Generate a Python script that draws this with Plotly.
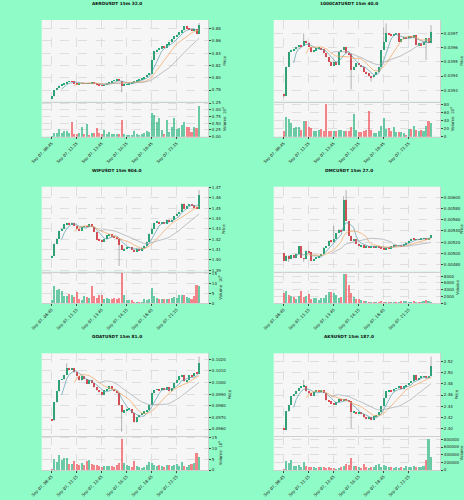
import plotly.graph_objects as go
import pandas as pd

# ---------------- data ----------------
N = 60
candle_idx = list(range(N))
date_ticks = [0, 10, 20, 30, 40, 50]
date_labels = ["Sep 07, 08:45", "Sep 07, 11:15", "Sep 07, 13:45",
               "Sep 07, 16:15", "Sep 07, 18:45", "Sep 07, 21:15"]

titles = ["AEROUSDT 15m 32.0", "1000CATUSDT 15m 40.0", "WIFUSDT 15m 904.0",
          "DMCUSDT 15m 27.0", "GOATUSDT 15m 81.0", "AKSUSDT 15m 187.0"]

aero_open0 = 0.7654
aero_close = [0.7697, 0.7795, 0.7833, 0.7870, 0.7887, 0.7903, 0.7936, 0.7946, 0.7941, 0.7914,
              0.7898, 0.7903, 0.7908, 0.7903, 0.7914, 0.7908, 0.7919, 0.7903, 0.7892, 0.7881,
              0.7870, 0.7881, 0.7914, 0.7925, 0.7952, 0.7963, 0.7968, 0.7952, 0.7870, 0.7892,
              0.7898, 0.7914, 0.7925, 0.7936, 0.7952, 0.7968, 0.7990, 0.8011, 0.8049, 0.8066,
              0.8282, 0.8429, 0.8456, 0.8472, 0.8510, 0.8490, 0.8548, 0.8575, 0.8629, 0.8673,
              0.8700, 0.8743, 0.8770, 0.8835, 0.8808, 0.8781, 0.8765, 0.8790, 0.8711, 0.8862]
aero_high = {59: 0.8890}
aero_low = {28: 0.7762}
aero_vol = [0.025, 0.16, 0.16, 0.31, 0.15, 0.21, 0.22, 0.16, 0.55, 0.12,
            0.11, 0.15, 0.36, 0.12, 0.47, 0.06, 0.16, 0.16, 0.32, 0.15,
            0.12, 0.25, 0.10, 0.20, 0.12, 0.11, 0.12, 0.11, 0.65, 0.10,
            0.05, 0.08, 0.06, 0.24, 0.10, 0.08, 0.10, 0.16, 0.21, 0.19,
            0.90, 0.80, 0.56, 0.71, 0.25, 0.12, 0.65, 0.19, 0.36, 0.72,
            0.30, 0.34, 0.44, 0.57, 0.36, 0.37, 0.17, 0.37, 0.35, 1.15]

cat_open0 = 0.039274
cat_close = [0.039263, 0.039466, 0.039571, 0.039578, 0.039588, 0.039606, 0.039616, 0.039611, 0.039649, 0.039634,
             0.039606, 0.039567, 0.039583, 0.039595, 0.039599, 0.039588, 0.039560, 0.039532, 0.039499, 0.039471,
             0.039501, 0.039478, 0.039571, 0.039583, 0.039606, 0.039560, 0.039553, 0.039443, 0.039466, 0.039489,
             0.039478, 0.039466, 0.039431, 0.039419, 0.039401, 0.039391, 0.039408, 0.039430, 0.039466, 0.039583,
             0.039642, 0.039700, 0.039693, 0.039688, 0.039693, 0.039700, 0.039642, 0.039658, 0.039677, 0.039665,
             0.039681, 0.039665, 0.039688, 0.039618, 0.039630, 0.039618, 0.039642, 0.039665, 0.039630, 0.039712]
cat_high = {8: 0.039700, 41: 0.039770, 40: 0.039740, 59: 0.039758}
cat_low = {0: 0.039250, 27: 0.039307, 35: 0.039361, 57: 0.039513}
cat_vol = [16, 50, 45, 35, 23, 25, 25, 18, 39, 41,
           24, 22, 14, 14, 18, 20, 16, 84, 15, 15,
           14, 15, 18, 18, 14, 16, 14, 24, 58, 18,
           12, 12, 16, 18, 65, 18, 9, 11, 15, 27,
           48, 20, 23, 14, 25, 13, 12, 12, 11, 6,
           20, 20, 27, 18, 15, 18, 14, 27, 40, 35]

wif_open0 = 1.4026
wif_close = [1.4042, 1.4161, 1.4209, 1.4283, 1.4305, 1.4347, 1.4360, 1.4347, 1.4360, 1.4331,
             1.4305, 1.4280, 1.4322, 1.4328, 1.4322, 1.4347, 1.4322, 1.4273, 1.4199, 1.4193,
             1.4177, 1.4203, 1.4241, 1.4251, 1.4232, 1.4219, 1.4209, 1.4145, 1.4096, 1.4113,
             1.4122, 1.4125, 1.4096, 1.4080, 1.4113, 1.4090, 1.4122, 1.4138, 1.4177, 1.4257,
             1.4305, 1.4360, 1.4370, 1.4354, 1.4360, 1.4354, 1.4392, 1.4370, 1.4392, 1.4424,
             1.4450, 1.4466, 1.4547, 1.4498, 1.4524, 1.4540, 1.4531, 1.4514, 1.4498, 1.4627]
wif_high = {59: 1.4675}
wif_low = {27: 1.3942}
wif_vol = [1.7, 8.8, 7.1, 7.6, 6.3, 3.7, 3.7, 5.1, 4.2, 3.4,
           6.1, 2.5, 1.7, 3.7, 3.2, 3.1, 8.8, 3.7, 3.1, 4.2,
           4.4, 2.4, 3.1, 2.4, 2.2, 2.7, 2.2, 3.1, 15.4, 4.2,
           2.0, 1.7, 2.0, 0.8, 0.7, 1.0, 0.8, 2.5, 1.7, 2.5,
           7.8, 3.7, 3.1, 2.4, 2.2, 2.4, 2.2, 2.5, 2.9, 3.4,
           3.1, 4.6, 4.4, 4.2, 3.4, 3.1, 2.5, 4.1, 9.3, 8.8]

dmc_open0 = 0.005004
dmc_close = [0.004876, 0.004963, 0.004905, 0.004975, 0.004917, 0.004992, 0.005127, 0.004917, 0.004905, 0.005051,
             0.005022, 0.004876, 0.004905, 0.004934, 0.004963, 0.004992, 0.005109, 0.005127, 0.005226, 0.005208,
             0.005255, 0.005360, 0.005430, 0.005401, 0.005955, 0.005576, 0.005313, 0.005226, 0.005255, 0.005167,
             0.005127, 0.005150, 0.005109, 0.005127, 0.005115, 0.005127, 0.005103, 0.005121, 0.005109, 0.005092,
             0.005080, 0.005109, 0.005092, 0.005127, 0.005150, 0.005138, 0.005150, 0.005127, 0.005167, 0.005197,
             0.005226, 0.005266, 0.005243, 0.005255, 0.005243, 0.005266, 0.005278, 0.005255, 0.005278, 0.005325]
dmc_high = {20: 0.005488, 25: 0.006129, 24: 0.006020}
dmc_low = {2: 0.004847, 8: 0.004847}
dmc_vol = [3135, 3700, 2470, 2375, 2000, 1235, 2280, 3700, 2000, 2375,
           2755, 1235, 1520, 1615, 1045, 1520, 1520, 2660, 3420, 3420,
           3135, 2470, 1520, 2000, 8835, 8835, 5600, 3135, 1800, 1235,
           1235, 1045, 855, 760, 570, 475, 570, 380, 475, 665,
           475, 380, 475, 380, 570, 475, 475, 665, 855, 665,
           570, 475, 665, 380, 475, 570, 665, 950, 760, 570]

goat_open0 = 0.09683
goat_close = [0.09672, 0.09827, 0.09922, 0.10022, 0.10028, 0.10066, 0.10123, 0.10109, 0.10123, 0.10086,
              0.10057, 0.10017, 0.10051, 0.10028, 0.09988, 0.10022, 0.09994, 0.09959, 0.09931, 0.09913,
              0.09893, 0.09931, 0.09942, 0.09971, 0.09942, 0.09922, 0.09908, 0.09807, 0.09741, 0.09758,
              0.09764, 0.09770, 0.09735, 0.09655, 0.09701, 0.09721, 0.09735, 0.09749, 0.09758, 0.09807,
              0.09908, 0.09936, 0.09942, 0.09931, 0.09951, 0.09936, 0.09959, 0.09922, 0.09951, 0.09994,
              0.10017, 0.10051, 0.10066, 0.10008, 0.10022, 0.10066, 0.10051, 0.10080, 0.10074, 0.10166]
goat_high = {6: 0.10166, 59: 0.10224}
goat_low = {28: 0.09577}
goat_vol = [0.3, 5.3, 3.9, 7.0, 4.7, 5.5, 5.5, 2.8, 2.8, 4.4,
            2.7, 2.3, 3.1, 2.2, 4.2, 4.7, 2.7, 2.5, 2.3, 1.7,
            1.6, 1.9, 1.7, 1.9, 1.9, 1.6, 2.3, 3.1, 14.5, 3.1,
            2.3, 1.9, 1.6, 4.4, 1.9, 1.6, 1.1, 1.6, 2.3, 3.9,
            3.4, 2.2, 1.9, 2.2, 1.9, 1.6, 2.2, 2.3, 1.9, 2.3,
            2.7, 1.9, 3.6, 1.9, 1.6, 2.3, 2.8, 3.1, 7.8, 6.1]

aks_open0 = 2.3988
aks_close = [2.3970, 2.4300, 2.4420, 2.4583, 2.4619, 2.4673, 2.4721, 2.4739, 2.4763, 2.4661,
             2.4631, 2.4583, 2.4655, 2.4667, 2.4655, 2.4679, 2.4631, 2.4498, 2.4480, 2.4450,
             2.4420, 2.4462, 2.4523, 2.4498, 2.4523, 2.4498, 2.4480, 2.4282, 2.4294, 2.4270,
             2.4282, 2.4258, 2.4198, 2.4162, 2.4198, 2.4150, 2.4210, 2.4240, 2.4282, 2.4402,
             2.4541, 2.4661, 2.4679, 2.4661, 2.4703, 2.4715, 2.4751, 2.4703, 2.4751, 2.4781,
             2.4811, 2.4841, 2.4961, 2.4871, 2.4901, 2.4919, 2.4931, 2.4901, 2.4931, 2.5123]
aks_high = {8: 2.4871, 59: 2.5291}
aks_low = {27: 2.4000}
aks_vol = [17400, 235000, 191000, 261000, 104000, 113000, 130000, 70000, 200000, 104000,
           87000, 70000, 87000, 61000, 87000, 70000, 87000, 43500, 70000, 52000,
           35000, 26000, 43500, 87000, 104000, 156000, 130000, 304000, 104000, 113000,
           70000, 61000, 156000, 70000, 61000, 87000, 70000, 130000, 156000, 87000,
           139000, 113000, 87000, 78000, 35000, 87000, 43500, 70000, 43500, 104000,
           87000, 70000, 104000, 78000, 70000, 87000, 104000, 261000, 800000, 348000]

ma_periods = [5, 10, 20]

# ---------------- styling / layout config ----------------
BG = "#8ffbc6"
UP = "#1db27a"
DOWN = "#f0454f"
WICK = "#6e6e6e"
MA_COLORS = ["#5e9cae", "#f3a35b", "#a3a9b0"]
FONT = "DejaVu Sans"

panels = [
    dict(open0=aero_open0, close=aero_close, hi=aero_high, lo=aero_low, vol=aero_vol,
         prange=[0.761, 0.894], pdtick=0.02, ptick0=0.78, pfmt=".2f",
         vrange=[0, 1.3], vdtick=0.25, vfmt=".2f", vlabel="Volume  10<sup>6</sup>"),
    dict(open0=cat_open0, close=cat_close, hi=cat_high, lo=cat_low, vol=cat_vol,
         prange=[0.039220, 0.039794], pdtick=0.0001, ptick0=0.0393, pfmt=".4f",
         vrange=[0, 88], vdtick=20, vfmt="d", vlabel="Volume  10<sup>6</sup>"),
    dict(open0=wif_open0, close=wif_close, hi=wif_high, lo=wif_low, vol=wif_vol,
         prange=[1.3887, 1.4707], pdtick=0.01, ptick0=1.40, pfmt=".2f",
         vrange=[0, 16.1], vdtick=5, vfmt="d", vlabel="Volume  10<sup>6</sup>"),
    dict(open0=dmc_open0, close=dmc_close, hi=dmc_high, lo=dmc_low, vol=dmc_vol,
         prange=[0.004672, 0.006188], pdtick=0.0002, ptick0=0.0048, pfmt=".5f",
         vrange=[0, 9300], vdtick=2000, vfmt="d", vlabel="Volume"),
    dict(open0=goat_open0, close=goat_close, hi=goat_high, lo=goat_low, vol=goat_vol,
         prange=[0.09540, 0.10252], pdtick=0.001, ptick0=0.096, pfmt=".4f",
         vrange=[0, 15.9], vdtick=5, vfmt="d", vlabel="Volume  10<sup>6</sup>"),
    dict(open0=aks_open0, close=aks_close, hi=aks_high, lo=aks_low, vol=aks_vol,
         prange=[2.3862, 2.5351], pdtick=0.02, ptick0=2.40, pfmt=".2f",
         vrange=[0, 890000], vdtick=200000, vfmt="d", vlabel="Volume"),
]

col_x = [[41.7 / 464, 208.3 / 464], [273.7 / 464, 440.3 / 464]]
row_price = [[1 - 101.7 / 500, 1 - 20 / 500], [1 - 271.7 / 500, 1 - 186.7 / 500], [1 - 436 / 500, 1 - 353.3 / 500]]
row_vol = [[1 - 136.7 / 500, 1 - 101.7 / 500], [1 - 303.3 / 500, 1 - 271.7 / 500], [1 - 470 / 500, 1 - 436 / 500]]
title_x = [116.7 / 464, 348.7 / 464]
title_y = [1 - 3.5 / 500, 1 - 170 / 500, 1 - 336 / 500]

XR = [-4, 62.7]
GRID = "#dedede"
PLOT_BG = "#f6f6f6"
BODY_W = 0.62

fig = go.Figure()
layout = dict(width=464, height=500, margin=dict(l=0, r=0, t=0, b=0, autoexpand=False),
              paper_bgcolor=BG, plot_bgcolor=PLOT_BG, showlegend=False, bargap=0,
              font=dict(family=FONT, size=4, color="#222"), annotations=[])

for k, p in enumerate(panels):
    r, c = divmod(k, 2)
    close = p["close"]
    opens = [p["open0"]] + close[:-1]
    highs = [p["hi"].get(i, max(o, cl)) for i, (o, cl) in enumerate(zip(opens, close))]
    lows = [p["lo"].get(i, min(o, cl)) for i, (o, cl) in enumerate(zip(opens, close))]
    ax_p = 2 * k + 1
    ax_v = 2 * k + 2
    xp = "x" if ax_p == 1 else f"x{ax_p}"
    yp = "y" if ax_p == 1 else f"y{ax_p}"
    xv, yv = f"x{ax_v}", f"y{ax_v}"
    cols = [UP if cl >= o else DOWN for o, cl in zip(opens, close)]
    min_body = (p["prange"][1] - p["prange"][0]) * 0.004

    # wicks
    wx, wy = [], []
    for i in candle_idx:
        wx += [i, i, None]
        wy += [lows[i], highs[i], None]
    fig.add_trace(go.Scatter(x=wx, y=wy, mode="lines", line=dict(color=WICK, width=0.5),
                             xaxis=xp, yaxis=yp, hoverinfo="skip"))
    # bodies
    fig.add_trace(go.Bar(x=candle_idx,
                         y=[max(abs(cl - o), min_body) for o, cl in zip(opens, close)],
                         base=[min(o, cl) for o, cl in zip(opens, close)],
                         width=BODY_W, marker=dict(color=cols, line=dict(width=0)),
                         xaxis=xp, yaxis=yp, hoverinfo="skip"))
    s = pd.Series(close)
    for per, col in zip(ma_periods, MA_COLORS):
        fig.add_trace(go.Scatter(x=candle_idx, y=s.rolling(per).mean(), mode="lines",
                                 line=dict(color=col, width=0.7), xaxis=xp, yaxis=yp,
                                 hoverinfo="skip"))
    fig.add_trace(go.Bar(x=candle_idx, y=p["vol"], marker=dict(color=cols, opacity=0.65, line=dict(width=0)),
                         width=0.7, xaxis=xv, yaxis=yv, hoverinfo="skip"))

    common_x = dict(range=XR, showgrid=True, gridcolor=GRID, griddash="dash", gridwidth=0.5,
                    zeroline=False, showline=True, linecolor="#cfcfcf", linewidth=0.5,
                    tickvals=date_ticks, domain=col_x[c], fixedrange=True, automargin=False)
    layout[f"xaxis{ax_p}"] = dict(common_x, anchor=yp, showticklabels=False, ticks="", matches=xv)
    layout[f"xaxis{ax_v}"] = dict(common_x, anchor=yv, ticktext=date_labels, tickangle=-45,
                                  ticks="outside", ticklen=2, tickwidth=0.5, tickcolor="#444",
                                  tickfont=dict(size=4))
    common_y = dict(side="right", showgrid=True, gridcolor=GRID, griddash="dash", gridwidth=0.5,
                    zeroline=False, showline=True, linecolor="#cfcfcf", linewidth=0.5,
                    ticks="outside", ticklen=2, tickwidth=0.5, tickcolor="#444",
                    tickfont=dict(size=4), automargin=False)
    layout[f"yaxis{ax_p}"] = dict(common_y, domain=row_price[r], anchor=xp, range=p["prange"],
                                  dtick=p["pdtick"], tick0=p["ptick0"], tickformat=p["pfmt"],
                                  title=dict(text="Price", font=dict(size=4), standoff=2))
    layout[f"yaxis{ax_v}"] = dict(common_y, domain=row_vol[r], anchor=xv, range=p["vrange"],
                                  dtick=p["vdtick"], tick0=p["vdtick"], tickformat=p["vfmt"],
                                  title=dict(text=p["vlabel"], font=dict(size=4), standoff=2))
    layout["annotations"].append(dict(text=f"<b>{titles[k]}</b>", x=title_x[c], y=title_y[r],
                                      xref="paper", yref="paper", showarrow=False,
                                      xanchor="center", yanchor="middle",
                                      font=dict(size=4.3, family=FONT, color="#111")))

fig.update_layout(**layout)
fig.write_html("out.html")
